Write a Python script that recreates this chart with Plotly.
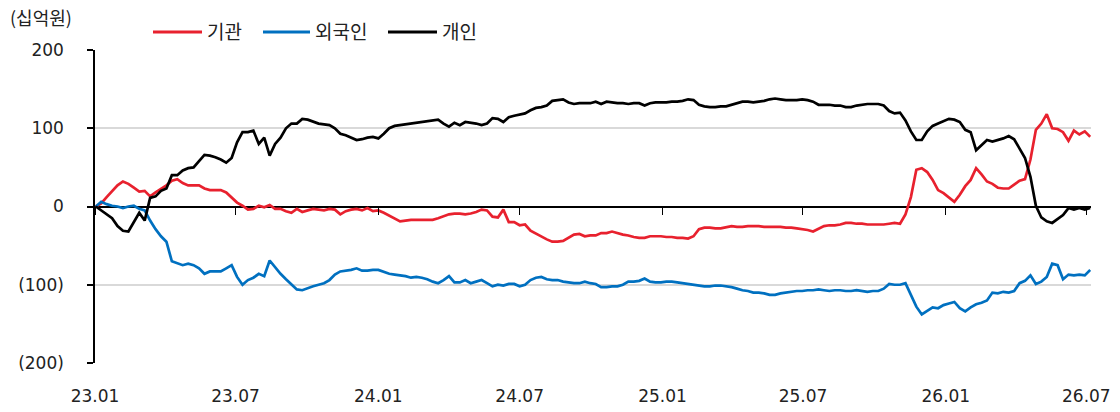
import pandas as pd
import plotly.graph_objects as go

# Weekly cumulative net buying (KRW bn) by investor type
weeks = pd.date_range("2023-01-02", periods=184, freq="7D")

institution = [
    0, 4, 12, 20, 27, 32, 29, 24, 19, 20,
    13, 18, 22, 27, 33, 35, 30, 27, 27, 27,
    23, 21, 21, 21, 18, 11, 5, 1, -4, -3,
    1, -1, 2, -3, -3, -6, -8, -3, -7, -5,
    -3, -4, -5, -3, -4, -10, -6, -4, -3, -5,
    -2, -6, -5, -8, -12, -16, -19, -18, -17, -17,
    -17, -17, -17, -15, -12, -10, -9, -9, -10, -9,
    -7, -4, -5, -13, -14, -4, -20, -20, -24, -23,
    -31, -35, -38, -42, -45, -45, -44, -40, -36, -35,
    -38, -37, -37, -34, -34, -32, -34, -36, -37, -39,
    -40, -40, -38, -38, -38, -39, -39, -40, -40, -41,
    -38, -29, -27, -27, -28, -28, -26, -25, -26, -26,
    -25, -25, -25, -26, -26, -26, -26, -27, -27, -28,
    -29, -30, -32, -28, -25, -24, -24, -23, -21, -21,
    -22, -22, -23, -23, -23, -23, -22, -21, -22, -10,
    12, 47, 49, 44, 34, 21, 17, 12, 6, 15,
    26, 34, 49, 41, 32, 29, 24, 23, 23, 28,
    33, 35, 60, 98, 106, 118, 100, 99, 95, 84,
    97, 92, 96, 89,
]

foreign = [
    0, 6, 3, 1, 0, -2, 0, 1, -3, -5,
    -18, -29, -38, -45, -70, -73, -75, -73, -75, -79,
    -86, -83, -83, -83, -79, -75, -90, -100, -94, -91,
    -86, -89, -69, -78, -86, -93, -100, -106, -107, -104,
    -102, -100, -98, -94, -87, -83, -82, -81, -79, -82,
    -82, -81, -81, -84, -86, -87, -88, -89, -91, -90,
    -91, -93, -96, -98, -94, -89, -97, -97, -94, -98,
    -96, -94, -98, -102, -100, -101, -99, -99, -102, -100,
    -94, -91, -90, -93, -94, -94, -96, -97, -98, -98,
    -96, -98, -99, -103, -103, -102, -102, -100, -96, -96,
    -95, -92, -96, -97, -97, -96, -96, -97, -98, -99,
    -100, -101, -102, -102, -101, -101, -102, -103, -105, -107,
    -108, -110, -110, -111, -113, -113, -111, -110, -109, -108,
    -108, -107, -107, -106, -107, -108, -107, -107, -108, -108,
    -107, -108, -109, -108, -108, -105, -99, -100, -100, -98,
    -114, -128, -138, -134, -129, -130, -126, -124, -122, -130,
    -134, -129, -125, -123, -120, -110, -111, -109, -110, -108,
    -98, -95, -88, -99, -96, -90, -73, -75, -93, -87,
    -88, -87, -88, -81,
]

individual = [
    0, -5, -10, -15, -25, -31, -32, -20, -8, -18,
    11, 13, 20, 23, 40, 40, 46, 49, 50, 58,
    66, 65, 63, 60, 56, 62, 82, 95, 95, 97,
    80, 88, 65, 80, 88, 100, 106, 106, 112, 111,
    109, 106, 105, 104, 100, 93, 91, 88, 85, 86,
    88, 89, 87, 93, 100, 103, 104, 105, 106, 107,
    108, 109, 110, 111, 106, 102, 107, 104, 108, 107,
    106, 104, 106, 113, 112, 108, 114, 116, 118, 119,
    123, 126, 127, 129, 135, 136, 137, 133, 131, 132,
    132, 132, 134, 131, 134, 133, 132, 132, 131, 132,
    132, 129, 132, 133, 133, 133, 134, 134, 135, 137,
    136, 130, 128, 127, 127, 128, 128, 130, 132, 134,
    134, 133, 134, 135, 137, 138, 137, 136, 136, 136,
    137, 136, 134, 130, 130, 130, 129, 129, 127, 127,
    129, 130, 131, 131, 131, 129, 122, 119, 120, 110,
    96, 85, 85, 96, 103, 106, 109, 112, 111, 108,
    98, 95, 72, 78, 85, 83, 85, 87, 90, 86,
    74, 62, 38, 1, -14, -19, -21, -16, -11, -2,
    -4, -2, -4, -2,
]

series_names = ["기관", "외국인", "개인"]
series_colors = ["#E8212E", "#0070C0", "#000000"]

x_tick_dates = ["2023-01-01", "2023-07-01", "2024-01-01", "2024-07-01",
                "2025-01-01", "2025-07-01", "2026-01-01", "2026-07-01"]
x_tick_labels = ["23.01", "23.07", "24.01", "24.07",
                 "25.01", "25.07", "26.01", "26.07"]
y_tick_values = [200, 100, 0, -100, -200]
y_tick_labels = ["200", "100", "0", "(100)", "(200)"]

W, H = 1120, 412
M_L, M_R, M_T, M_B = 95, 29, 50, 49
plot_w = W - M_L - M_R
plot_h = H - M_T - M_B


def px_x(px):
    return (px - M_L) / plot_w


def px_y(py):
    return (H - M_B - py) / plot_h


NUM_FONT = "DejaVu Sans, Noto Sans CJK KR, sans-serif"
KR_FONT = "Noto Sans CJK KR, sans-serif"

fig = go.Figure()
for name, vals, color in zip(series_names, [institution, foreign, individual], series_colors):
    fig.add_trace(go.Scatter(
        x=weeks, y=vals, name=name, mode="lines",
        line=dict(color=color, width=2.7),
        showlegend=False,
    ))

# carrier for the tick marks drawn on the zero line
fig.add_trace(go.Scatter(
    x=[weeks[0]], y=[0], xaxis="x2", mode="markers",
    marker=dict(opacity=0), showlegend=False, hoverinfo="skip",
))

fig.update_layout(
    width=W, height=H,
    margin=dict(l=M_L, r=M_R, t=M_T, b=M_B),
    plot_bgcolor="white", paper_bgcolor="white",
    showlegend=False,
    font=dict(family=NUM_FONT, size=17, color="#222222"),
    xaxis=dict(
        type="date", range=["2023-01-01", "2026-07-07"],
        tickvals=x_tick_dates, ticktext=x_tick_labels,
        showgrid=False, zeroline=False, showline=False, ticks="",
        ticklabelstandoff=21, automargin=False,
        tickfont=dict(family=NUM_FONT, size=17, color="#222222"),
    ),
    xaxis2=dict(
        type="date", overlaying="x", matches="x", anchor="free", position=0.5,
        side="bottom", tickvals=x_tick_dates, showticklabels=False,
        ticks="outside", ticklen=7, tickwidth=1.3, tickcolor="#000000",
        showgrid=False, zeroline=False, showline=False, automargin=False,
    ),
    yaxis=dict(
        range=[-200, 200], tickvals=y_tick_values, ticktext=y_tick_labels,
        showgrid=True, gridcolor="#D9D9D9", gridwidth=2,
        zeroline=True, zerolinecolor="#000000", zerolinewidth=1.5,
        showline=True, linecolor="#000000", linewidth=1.5,
        ticks="outside", ticklen=6, tickwidth=1.5, tickcolor="#000000",
        ticklabelstandoff=20, automargin=False,
        tickfont=dict(family=NUM_FONT, size=17, color="#222222"),
    ),
)

# unit label
fig.add_annotation(
    x=px_x(8), y=px_y(17), xref="paper", yref="paper",
    text="(십억원)", showarrow=False, xanchor="left", yanchor="middle",
    font=dict(family=KR_FONT, size=18, color="#222222"),
)

# legend drawn as line samples with labels
legend_items = [(153, 202, 205), (263, 310, 313), (388, 437, 440)]
for (x0, x1, xt), name, color in zip(legend_items, series_names, series_colors):
    fig.add_shape(
        type="line", xref="paper", yref="paper",
        x0=px_x(x0), x1=px_x(x1), y0=px_y(32), y1=px_y(32),
        line=dict(color=color, width=3),
    )
    fig.add_annotation(
        x=px_x(xt), y=px_y(31), xref="paper", yref="paper",
        text=name, showarrow=False, xanchor="left", yanchor="middle",
        font=dict(family=KR_FONT, size=19, color="#222222"),
    )

fig.write_html("out.html")
